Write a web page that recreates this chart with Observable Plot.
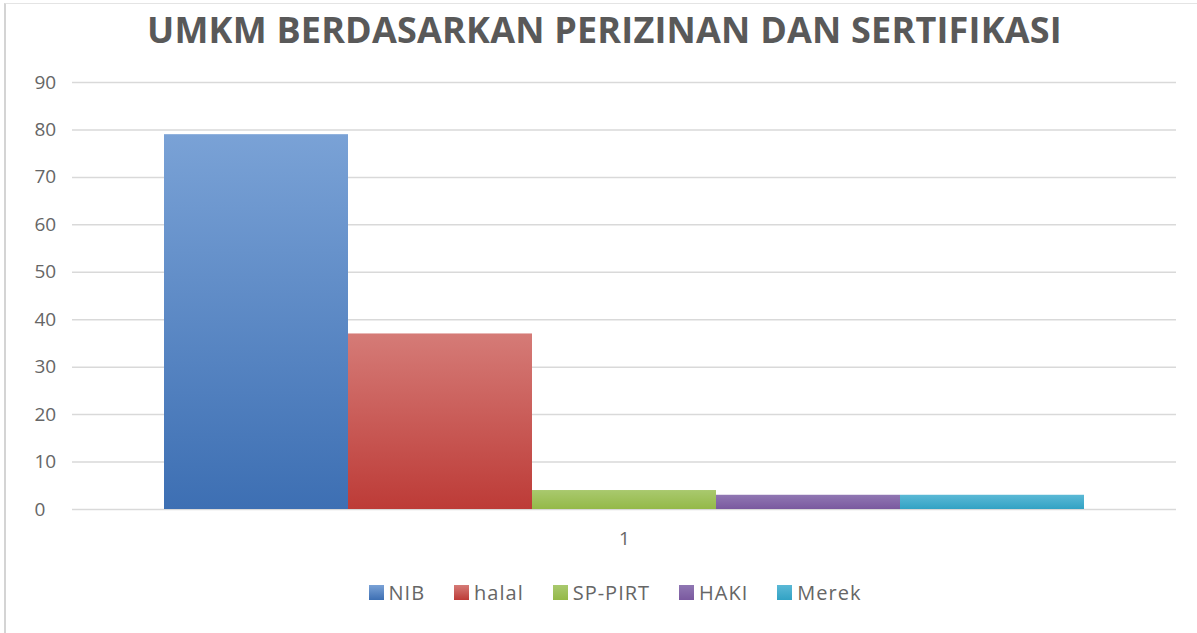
<!DOCTYPE html>
<html>
<head>
<meta charset="utf-8">
<script src="https://cdn.jsdelivr.net/npm/d3@7"></script>
<script src="https://cdn.jsdelivr.net/npm/@observablehq/plot@0.6"></script>
<style>
  html, body { margin: 0; padding: 0; background: #fff; }
  #frame {
    position: absolute; left: 4px; top: 3px; width: 1193px; height: 630px;
    border-left: 2px solid #d4d4d4; border-top: 1px solid #e4e4e4;
    box-sizing: border-box;
  }
  #root { position: absolute; left: 0; top: 0; width: 1197px; }
  #title {
    height: 62px; line-height: 59px; text-align: center;
    font-family: "Open Sans", sans-serif; font-weight: 700; font-size: 36px;
    letter-spacing: 0.2px; color: #595959; padding-left: 12px;
  }
  #legend { display: flex; justify-content: center; padding-top: 14px; padding-left: 62px; }
  #legend .lg-swatch { margin-right: 29px !important; font-size: 20px; letter-spacing: 1px; color: #666; font-family: "Open Sans", sans-serif; }
  #legend .lg-swatch > svg { margin-right: 5px !important; }
</style>
</head>
<body>
<div id="frame"></div>
<div id="root">
  <div id="title">UMKM BERDASARKAN PERIZINAN DAN SERTIFIKASI</div>
  <div id="chart"></div>
  <div id="legend"></div>
</div>
<script>
const categories = ["1"];
const series = ["NIB", "halal", "SP-PIRT", "HAKI", "Merek"];
const values = [79, 37, 4, 3, 3];
const yTicks = [0, 10, 20, 30, 40, 50, 60, 70, 80, 90];
const gradTop = ["#7aa2d6", "#d57b77", "#a9c96e", "#9077b3", "#5bb9d6"];
const gradBottom = ["#3d6fb3", "#bd3b37", "#94b948", "#7a599f", "#32a2c4"];

const data = series.map((s, i) => ({category: categories[0], series: s, value: values[i]}));
const gradIds = series.map((s, i) => `grad${i}`);

function defs() {
  const g = d3.create("svg:defs");
  gradIds.forEach((id, i) => {
    const lg = g.append("linearGradient").attr("id", id).attr("x1", 0).attr("y1", 0).attr("x2", 0).attr("y2", 1);
    lg.append("stop").attr("offset", "0%").attr("stop-color", gradTop[i]);
    lg.append("stop").attr("offset", "100%").attr("stop-color", gradBottom[i]);
  });
  return g.node();
}

const plot = Plot.plot({
  width: 1197,
  height: 500,
  marginLeft: 72,
  marginRight: 21,
  marginTop: 20,
  marginBottom: 53,
  style: {fontFamily: "Open Sans, sans-serif", background: "transparent"},
  x: {domain: series, axis: null, paddingInner: 0, paddingOuter: 0.4935},
  y: {domain: [0, 90], axis: null},
  color: {domain: series, range: gradIds.map(id => `url(#${id})`)},
  marks: [
    defs,
    Plot.gridY(yTicks, {stroke: "#d9d9d9", strokeOpacity: 1, strokeWidth: 1.5}),
    Plot.axisY(yTicks, {tickSize: 0, tickPadding: 3, textAnchor: "start", dx: -35, fontSize: 19, fill: "#666", label: null}),
    Plot.barY(data, {x: "series", y: "value", fill: "series"}),
    Plot.text(categories, {text: d => d, frameAnchor: "bottom", dy: 35, fontSize: 19, fill: "#666"})
  ]
});
document.getElementById("chart").appendChild(plot);

const leg = plot.legend("color", {swatchSize: 15, className: "lg"});
document.getElementById("legend").appendChild(leg);
</script>
</body>
</html>
